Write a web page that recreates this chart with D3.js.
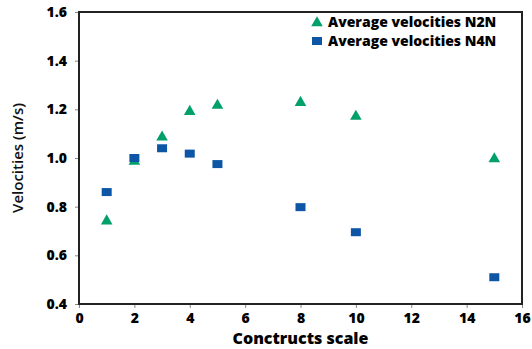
<!DOCTYPE html>
<html>
<head>
<meta charset="utf-8">
<script src="https://cdn.jsdelivr.net/npm/d3@7"></script>
<style>
  body { margin: 0; background: #fff; }
  svg text { font-family: "Open Sans", "DejaVu Sans", sans-serif; }
</style>
</head>
<body>
<div id="chart"></div>
<script>
// data
const scaleN2N = [1, 2, 3, 4, 5, 8, 10, 15];
const velN2N = [0.745, 0.99, 1.09, 1.195, 1.22, 1.232, 1.175, 1.0];
const scaleN4N = [1, 2, 3, 4, 5, 8, 10, 15];
const velN4N = [0.86, 1.0, 1.04, 1.018, 0.975, 0.798, 0.695, 0.51];
const xTicks = [0, 2, 4, 6, 8, 10, 12, 14, 16];
const yTicks = [0.4, 0.6, 0.8, 1.0, 1.2, 1.4, 1.6];
const seriesNames = ["Average velocities N2N", "Average velocities N4N"];

// set the dimensions and margins
let margin = {top: 12, right: 10, bottom: 45, left: 79};
let width = 532 - margin.left - margin.right,
    height = 349 - margin.top - margin.bottom;

const svg = d3.select("#chart")
  .append("svg")
    .attr("width", 532)
    .attr("height", 349)
  .append("g")
    .attr("transform", "translate(" + margin.left + "," + margin.top + ")");

let x = d3.scaleLinear().domain([0, 16]).range([0, 443]);
let y = d3.scaleLinear().domain([0.4, 1.6]).range([292, 0]);

// axes
const xAxis = svg.append("g")
  .attr("transform", "translate(0,292)")
  .call(d3.axisBottom(x).tickValues(xTicks).tickSize(4).tickSizeOuter(0).tickPadding(5));
const yAxis = svg.append("g")
  .call(d3.axisLeft(y).tickValues(yTicks).tickFormat(d3.format(".1f")).tickSize(4).tickSizeOuter(0).tickPadding(8));

[xAxis, yAxis].forEach(function(a) {
  a.select(".domain").remove();
  a.selectAll(".tick line").attr("stroke", "#888");
  a.selectAll(".tick text")
    .attr("fill", "#000")
    .style("font-size", "14px")
    .style("font-weight", "800");
});

// frame
svg.append("rect")
  .attr("x", x(0)).attr("y", y(1.6))
  .attr("width", x(16) - x(0)).attr("height", y(0.4) - y(1.6))
  .attr("fill", "none")
  .attr("stroke", "#222")
  .attr("stroke-width", 2);

// axis titles
svg.append("text")
  .attr("x", x(8)).attr("y", 292 + 40)
  .attr("text-anchor", "middle")
  .style("font-size", "16px").style("font-weight", "800")
  .attr("fill", "#000")
  .text("Conctructs scale");

svg.append("text")
  .attr("transform", "translate(-56," + y(1.0) + ")rotate(-90)")
  .attr("text-anchor", "middle")
  .style("font-size", "15px").style("font-weight", "600")
  .attr("fill", "#111")
  .text("Velocities (m/s)");

// markers
const tri = d3.symbol().type(d3.symbolTriangle).size(58);
svg.selectAll(".n2n")
  .data(scaleN2N.map(function(d, i) { return {s: d, v: velN2N[i]}; }))
  .enter()
  .append("path")
    .attr("class", "n2n")
    .attr("d", tri)
    .attr("transform", function(d) { return "translate(" + x(d.s) + "," + (y(d.v) + 1) + ")"; })
    .attr("fill", "#00a06b");

svg.selectAll(".n4n")
  .data(scaleN4N.map(function(d, i) { return {s: d, v: velN4N[i]}; }))
  .enter()
  .append("rect")
    .attr("class", "n4n")
    .attr("x", function(d) { return x(d.s) - 5; })
    .attr("y", function(d) { return y(d.v) - 4; })
    .attr("width", 10)
    .attr("height", 8)
    .attr("fill", "#0d56a6");

// legend
const legend = svg.append("g").attr("transform", "translate(238,10)");
legend.append("path")
  .attr("d", tri)
  .attr("transform", "translate(0,1)")
  .attr("fill", "#00a06b");
legend.append("rect")
  .attr("x", -5).attr("y", 15).attr("width", 10).attr("height", 8)
  .attr("fill", "#0d56a6");
seriesNames.forEach(function(name, i) {
  legend.append("text")
    .attr("x", 11).attr("y", i * 19 + 5)
    .style("font-size", "14px").style("font-weight", "800")
    .attr("fill", "#000")
    .text(name);
});
</script>
</body>
</html>
